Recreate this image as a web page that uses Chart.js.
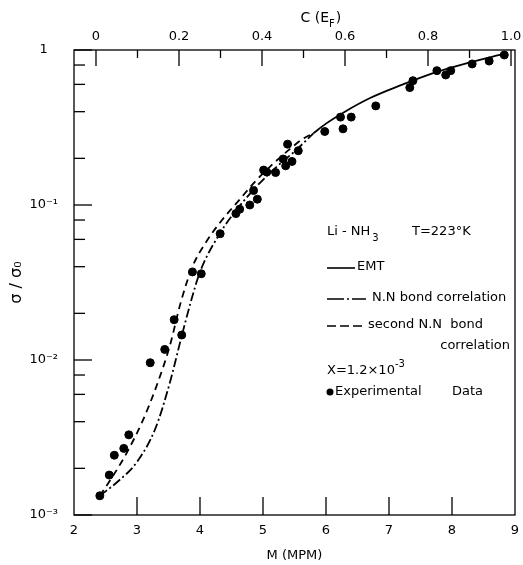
<!DOCTYPE html>
<html>
<head>
<meta charset="utf-8">
<script src="https://cdn.jsdelivr.net/npm/chart.js@4.4.0/dist/chart.umd.min.js"></script>
<style>
  html, body { margin: 0; padding: 0; background: #fff; }
</style>
</head>
<body>
<canvas id="chart" width="523" height="565"></canvas>
<script>
// axes
const mpmTicks = [2, 3, 4, 5, 6, 7, 8, 9];
const cTickValues = [0, 0.2, 0.4, 0.6, 0.8, 1.0];
const cTickLabels = ['0', '0.2', '0.4', '0.6', '0.8', '1.0'];
const sigmaTickValues = [0.001, 0.01, 0.1, 1];
const sigmaTickLabels = ['10⁻³', '10⁻²', '10⁻¹', '1'];

// experimental data
const expM = [2.41, 2.56, 2.64, 2.79, 2.87, 3.21, 3.44, 3.59, 3.71, 3.88,
              4.02, 4.32, 4.57, 4.63, 4.79, 4.85, 4.91, 5.01, 5.06, 5.20,
              5.32, 5.36, 5.39, 5.46, 5.56, 5.98, 6.23, 6.27, 6.40, 6.79,
              7.33, 7.38, 7.76, 7.90, 7.98, 8.32, 8.59, 8.83];
const expSigma = [1.33e-3, 1.81e-3, 2.43e-3, 2.69e-3, 3.29e-3, 9.6e-3, 1.17e-2, 1.82e-2, 1.45e-2, 3.7e-2,
                  3.6e-2, 6.53e-2, 8.8e-2, 9.4e-2, 0.100, 0.124, 0.109, 0.168, 0.163, 0.162,
                  0.198, 0.179, 0.247, 0.191, 0.224, 0.298, 0.369, 0.31, 0.369, 0.436,
                  0.572, 0.634, 0.736, 0.69, 0.736, 0.813, 0.849, 0.929];

// EMT (solid)
const emtM = [5.8, 6.0, 6.3, 6.7, 7.2, 7.7, 8.2, 8.85];
const emtSigma = [0.29, 0.335, 0.40, 0.49, 0.595, 0.71, 0.815, 0.95];

// N.N bond correlation (dash-dot)
const nnM = [2.41, 2.7, 3.0, 3.29, 3.52, 3.71, 3.87, 4.0, 4.32, 4.58, 4.9, 5.22, 5.53, 5.8];
const nnSigma = [1.33e-3, 1.65e-3, 2.2e-3, 3.6e-3, 7.1e-3, 1.43e-2, 2.5e-2, 3.7e-2, 6.6e-2, 9.3e-2, 0.132, 0.177, 0.227, 0.29];

// second N.N bond correlation (dashed)
const nn2M = [2.41, 2.62, 2.84, 3.10, 3.31, 3.52, 3.70, 3.88, 4.10, 4.35, 4.6, 4.85, 5.1, 5.4, 5.65, 5.8];
const nn2Sigma = [1.33e-3, 1.79e-3, 2.53e-3, 4.14e-3, 6.8e-3, 1.23e-2, 2.4e-2, 4.0e-2, 5.8e-2, 8.0e-2, 0.105, 0.138, 0.175, 0.225, 0.27, 0.29];

const pts = (xs, ys) => xs.map((x, i) => ({x: x, y: ys[i]}));
const FONT = '"DejaVu Sans", sans-serif';

// inward ticks + frame
const frameTicks = {
    id: 'frameTicks',
    afterDraw(chart) {
        const {ctx, chartArea: a, scales} = chart;
        ctx.save();
        ctx.strokeStyle = '#000';
        ctx.lineWidth = 1.3;
        const line = (x1, y1, x2, y2) => {
            ctx.beginPath(); ctx.moveTo(x1, y1); ctx.lineTo(x2, y2); ctx.stroke();
        };
        ctx.strokeRect(a.left, a.top, a.width, a.height);
        // left: decades long, 2-4-6-8 short
        sigmaTickValues.forEach(v => {
            const y = scales.y.getPixelForValue(v);
            line(a.left, y, a.left + 18, y);
            if (v < 1) {
                [2, 4, 6, 8].forEach(m => {
                    const ym = scales.y.getPixelForValue(v * m);
                    line(a.left, ym, a.left + 11, ym);
                });
            }
        });
        // bottom
        mpmTicks.slice(1, -1).forEach(v => {
            const x = scales.x.getPixelForValue(v);
            line(x, a.bottom, x, a.bottom - 18);
        });
        // top
        cTickValues.forEach(v => {
            const x = scales.x2.getPixelForValue(v);
            line(x, a.top, x, a.top + 16);
            if (v < 1) {
                const xm = scales.x2.getPixelForValue(v + 0.1);
                line(xm, a.top, xm, a.top + 8);
            }
        });
        ctx.restore();
    }
};

// top axis title with subscript, and the key block
const notes = {
    id: 'notes',
    afterDraw(chart) {
        const {ctx, chartArea: a, scales} = chart;
        ctx.save();
        ctx.fillStyle = '#000';
        ctx.strokeStyle = '#000';
        ctx.textBaseline = 'middle';

        // C (E_F)
        ctx.font = '14px ' + FONT;
        let cx = (a.left + a.right) / 2 + 6;
        ctx.fillText('C (E', cx, 18);
        let w = ctx.measureText('C (E').width;
        ctx.font = '10px ' + FONT;
        ctx.fillText('F', cx + w, 24);
        let wf = ctx.measureText('F').width;
        ctx.font = '14px ' + FONT;
        ctx.fillText(')', cx + w + wf + 1, 18);

        const x0 = scales.x.getPixelForValue(6) + 1;
        const t = a.top;
        ctx.font = '13px ' + FONT;

        // Li - NH3   T=223°K
        ctx.fillText('Li - NH', x0, t + 182);
        w = ctx.measureText('Li - NH').width;
        ctx.font = '10px ' + FONT;
        ctx.fillText('3', x0 + w + 2, t + 188);
        ctx.font = '13px ' + FONT;
        ctx.fillText('T=223°K', x0 + 85, t + 182);

        ctx.lineWidth = 1.6;
        // EMT
        ctx.setLineDash([]);
        ctx.beginPath(); ctx.moveTo(x0, t + 218); ctx.lineTo(x0 + 28, t + 218); ctx.stroke();
        ctx.fillText('EMT', x0 + 30, t + 217);
        // N.N
        ctx.setLineDash([17, 3, 2, 3]);
        ctx.beginPath(); ctx.moveTo(x0, t + 249); ctx.lineTo(x0 + 39, t + 249); ctx.stroke();
        ctx.fillText('N.N bond correlation', x0 + 45, t + 248);
        // second N.N
        ctx.setLineDash([9, 4]);
        ctx.beginPath(); ctx.moveTo(x0, t + 276); ctx.lineTo(x0 + 35, t + 276); ctx.stroke();
        ctx.setLineDash([]);
        ctx.fillText('second N.N  bond', x0 + 41, t + 275);
        ctx.textAlign = 'right';
        ctx.fillText('correlation', a.right - 5, t + 296);
        ctx.textAlign = 'left';

        // X = 1.2x10^-3
        ctx.fillText('X=1.2×10', x0, t + 321);
        w = ctx.measureText('X=1.2×10').width;
        ctx.font = '10px ' + FONT;
        ctx.fillText('-3', x0 + w, t + 314);
        ctx.font = '13px ' + FONT;

        // Experimental Data
        ctx.beginPath(); ctx.arc(x0 + 3, t + 342, 3.5, 0, Math.PI * 2); ctx.fill();
        ctx.fillText('Experimental', x0 + 8, t + 342);
        ctx.fillText('Data', x0 + 125, t + 342);
        ctx.restore();
    }
};

const lineSet = (data, dash) => ({
    type: 'line',
    data: data,
    borderColor: '#000',
    borderWidth: 1.8,
    borderDash: dash,
    pointRadius: 0,
    fill: false,
    cubicInterpolationMode: 'monotone'
});

new Chart(document.getElementById('chart'), {
    data: {
        datasets: [
            lineSet(pts(emtM, emtSigma), []),
            lineSet(pts(nnM, nnSigma), [9, 3, 2, 3]),
            lineSet(pts(nn2M, nn2Sigma), [7, 5]),
            {
                type: 'scatter',
                data: pts(expM, expSigma),
                backgroundColor: '#000',
                borderColor: '#000',
                pointRadius: 4,
                pointHoverRadius: 4
            }
        ]
    },
    options: {
        responsive: false,
        animation: false,
        layout: { padding: { left: 0, right: 8, top: 0, bottom: 0 } },
        plugins: { legend: { display: false }, tooltip: { enabled: false } },
        scales: {
            x: {
                type: 'linear',
                position: 'bottom',
                min: 2, max: 9,
                grid: { display: false, drawTicks: false },
                border: { display: false },
                afterBuildTicks: s => { s.ticks = mpmTicks.map(v => ({value: v})); },
                ticks: { color: '#000', font: { family: FONT, size: 13 }, padding: 8, maxRotation: 0, autoSkip: false },
                title: { display: true, text: 'M (MPM)', color: '#000', font: { family: FONT, size: 13 }, padding: { bottom: 2 } },
                afterFit: s => { s.height = 50; s.paddingLeft = 0; s.paddingRight = 0; }
            },
            x2: {
                type: 'linear',
                position: 'top',
                min: -0.053, max: 1.0096,
                grid: { display: false, drawTicks: false },
                border: { display: false },
                afterBuildTicks: s => { s.ticks = cTickValues.map(v => ({value: v})); },
                ticks: {
                    color: '#000', font: { family: FONT, size: 13 }, padding: 6, maxRotation: 0, autoSkip: false,
                    callback: (v, i) => cTickLabels[i]
                },
                afterFit: s => { s.height = 50; s.paddingLeft = 0; s.paddingRight = 0; }
            },
            y: {
                type: 'logarithmic',
                position: 'left',
                min: 0.001, max: 1,
                grid: { display: false, drawTicks: false },
                border: { display: false },
                afterBuildTicks: s => { s.ticks = sigmaTickValues.map(v => ({value: v})); },
                ticks: {
                    color: '#000', font: { family: FONT, size: 13 }, padding: 16, crossAlign: 'center', autoSkip: false,
                    callback: (v, i) => sigmaTickLabels[i]
                },
                title: { display: true, text: 'σ / σ₀', color: '#000', font: { family: FONT, size: 16 }, padding: { top: 7 } },
                afterFit: s => { s.width = 74; s.paddingTop = 0; s.paddingBottom = 0; }
            }
        }
    },
    plugins: [frameTicks, notes]
});
</script>
</body>
</html>
